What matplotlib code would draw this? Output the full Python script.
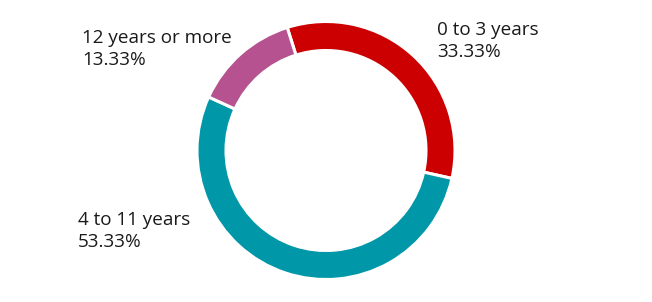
import matplotlib
matplotlib.use('Agg')
import matplotlib.pyplot as plt

# slice data, drawn clockwise starting just left of the top
labels = ['0 to 3 years', '4 to 11 years', '12 years or more']
shares = [33.33, 53.33, 13.33]
colors = ['#cc0000', '#0097a8', '#b5528f']

plt.rcParams['font.family'] = ['Open Sans', 'DejaVu Sans']

W, H = 652, 302
fig = plt.figure(figsize=(W / 100, H / 100), dpi=100)
ax = fig.add_axes([0, 0, 1, 1])

cx, cy, r_out = 326, H - 150.5, 129
ax.pie(shares, colors=colors, startangle=107.5, counterclock=False,
       center=(cx, cy), radius=r_out, frame=True,
       wedgeprops=dict(width=29, edgecolor='white', linewidth=2.2))
ax.set_xlim(0, W)
ax.set_ylim(0, H)
ax.set_aspect('equal')
ax.axis('off')

# label anchors: left x and baseline of first line (pixels from top)
label_pos = [(437, 35), (78, 225), (82, 43)]
for lab, val, (x, yb) in zip(labels, shares, label_pos):
    ax.text(x, H - yb, lab, fontsize=13.6, color='#1a1a1a', ha='left', va='baseline')
    ax.text(x, H - yb - 22, f'{val:.2f}%', fontsize=13.6, color='#1a1a1a',
            ha='left', va='baseline')

fig.savefig('out.png', dpi=100)
